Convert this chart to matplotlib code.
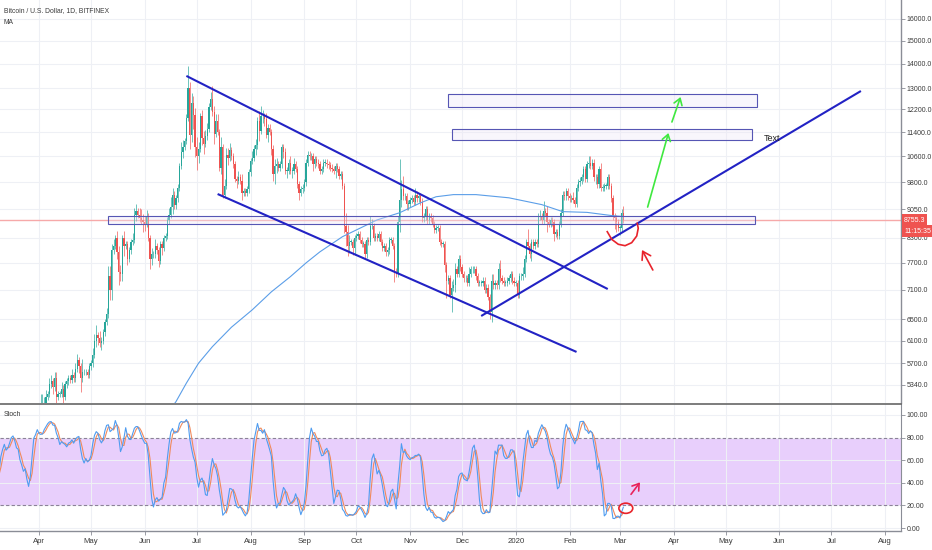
import numpy as np
import pandas as pd
import matplotlib
matplotlib.use('Agg')
import matplotlib.pyplot as plt
import matplotlib.dates as mdates
import matplotlib.transforms as mtrans
from matplotlib import font_manager
from matplotlib.patches import Rectangle, Ellipse
from matplotlib.ticker import NullLocator

# pick a narrow font if there is one, the TradingView labels are quite condensed
names = {f.name for f in font_manager.fontManager.ttflist}
FONT = 'Liberation Sans Narrow' if 'Liberation Sans Narrow' in names else 'Liberation Sans'
plt.rcParams['font.family'] = [FONT, 'DejaVu Sans']

# ---- daily BTC/USD closes (Bitfinex), plus wick sizes in % ----
feb19_close = [3980, 3950, 4000, 4150, 3800, 3850, 3830, 3850, 3850]
feb19_up = [2, 1, 1, 2, 3, 1, 1, 1, 1]
feb19_dn = [1, 1, 1, 1, 2, 1, 1, 1, 1]

mar19_close = [3870, 3880, 3850, 3750, 3930, 3940, 3960, 3960, 4020, 4000,
               3930, 3950, 3940, 3950, 4000, 4100, 4060, 4050, 4080, 4100,
               4020, 4040, 4050, 4040, 3960, 4000, 4120, 4110, 4200, 4200, 4200]
mar19_up = [1, 1, 1, 1, 1, 1, 1, 2, 1, 1, 1, 1, 1, 1, 1, 2, 1, 1, 1, 1,
            1, 1, 1, 1, 1, 1, 1, 1, 1, 1, 1]
mar19_dn = [1, 1, 1, 2, 1, 1, 1, 1, 1, 1, 1, 1, 1, 1, 1, 1, 1, 1, 1, 1,
            1, 1, 1, 1, 1, 1, 1, 1, 1, 1, 1]

apr19_close = [4200, 5000, 5050, 5050, 5150, 5200, 5350, 5400, 5300, 5450,
               5150, 5200, 5200, 5280, 5150, 5350, 5400, 5450, 5420, 5500,
               5450, 5600, 5750, 5650, 5450, 5550, 5550, 5550, 5500, 5650]
apr19_up = [2, 4, 3, 2, 2, 1, 2, 2, 1, 2, 2, 1, 1, 2, 1, 1, 1, 1, 1, 2,
            1, 2, 2, 1, 1, 4, 1, 1, 1, 1]
apr19_dn = [1, 1, 3, 2, 1, 1, 1, 1, 2, 1, 2, 1, 1, 1, 2, 1, 1, 1, 1, 1,
            1, 1, 1, 2, 4, 1, 1, 1, 1, 1]

may19_close = [5700, 5850, 6100, 6200, 6150, 6050, 6100, 6250, 6450, 6600,
               7400, 7100, 8000, 8100, 8300, 7950, 7500, 7450, 8300, 8100,
               8150, 7800, 8000, 8200, 8250, 8900, 9000, 8900, 8800, 8750, 8700]
may19_up = [1, 2, 2, 3, 1, 2, 1, 1, 1, 2, 3, 3, 2, 2, 1, 2, 2, 2, 1, 2,
            1, 1, 1, 1, 2, 2, 2, 1, 2, 3, 2]
may19_dn = [1, 1, 1, 2, 2, 1, 2, 1, 1, 1, 1, 3, 3, 1, 1, 2, 4, 2, 2, 3,
            1, 2, 1, 1, 1, 1, 2, 1, 1, 1, 3]

jun19_close = [8650, 8850, 8300, 7800, 7900, 7900, 8100, 8000, 7750, 8150,
               8050, 8300, 8350, 8750, 8900, 9100, 9450, 9150, 9350, 9650,
               10300, 10750, 10900, 11100, 11900, 13000, 11300, 12450, 12000, 10900]
jun19_up = [2, 2, 1, 1, 2, 1, 2, 1, 1, 1, 1, 1, 1, 1, 2, 3, 2, 1, 1, 1,
            1, 3, 2, 1, 1, 7, 2, 3, 2, 2]
jun19_dn = [2, 1, 1, 3, 2, 1, 1, 1, 2, 1, 2, 1, 1, 1, 1, 1, 2, 1, 1, 1,
            1, 1, 2, 1, 1, 1, 4, 2, 4, 3]

jul19_close = [10600, 10850, 11950, 11200, 11000, 11250, 11500, 12300, 12600, 12100,
               11350, 11800, 11400, 10250, 10900, 9450, 9700, 10650, 10550, 10800,
               10600, 10350, 9900, 9850, 9950, 9850, 9500, 9550, 9500, 9600, 10100]
jul19_up = [3, 2, 1, 2, 2, 2, 2, 1, 2, 4, 2, 2, 2, 1, 3, 1, 2, 2, 2, 2,
            1, 1, 1, 1, 2, 1, 2, 1, 1, 1, 1]
jul19_dn = [4, 2, 1, 2, 3, 1, 1, 1, 1, 1, 3, 1, 1, 1, 2, 1, 1, 1, 2, 1,
            1, 1, 1, 2, 1, 1, 2, 1, 1, 1, 1]

aug19_close = [10450, 10550, 10850, 10950, 11800, 11450, 11950, 11950, 11850, 11300,
               11550, 11400, 10850, 10050, 10300, 10350, 10250, 10350, 10900, 10750,
               10150, 10150, 10400, 10150, 10150, 10350, 10200, 9750, 9500, 9600, 9650]
aug19_up = [1, 2, 1, 2, 1, 3, 3, 2, 1, 2, 1, 1, 1, 1, 2, 2, 1, 1, 1, 1,
            1, 1, 1, 2, 1, 2, 1, 1, 1, 1, 1]
aug19_dn = [1, 1, 1, 2, 1, 3, 1, 2, 2, 1, 2, 1, 2, 2, 3, 2, 1, 1, 1, 2,
            1, 2, 1, 1, 2, 1, 1, 1, 2, 1, 1]

sep19_close = [9800, 10400, 10650, 10600, 10600, 10350, 10500, 10400, 10350, 10150,
               10200, 10400, 10400, 10350, 10320, 10250, 10200, 10150, 10300, 10200,
               10000, 10050, 9700, 8600, 8450, 8100, 8200, 8200, 8050, 8300]
sep19_up = [1, 1, 1, 1, 1, 1, 1, 1, 1, 1, 1, 1, 1, 1, 1, 1, 1, 1, 1, 1,
            1, 1, 1, 1, 4, 2, 2, 1, 1, 1]
sep19_dn = [1, 1, 1, 1, 1, 2, 1, 1, 1, 1, 1, 1, 1, 1, 1, 1, 1, 1, 2, 1,
            1, 1, 1, 2, 4, 3, 2, 1, 2, 2]

oct19_close = [8350, 8400, 8250, 8150, 8150, 7900, 8250, 8200, 8600, 8600,
               8300, 8350, 8300, 8400, 8200, 8050, 8100, 7950, 8000, 8250,
               8250, 8100, 7500, 7450, 8700, 9300, 9600, 9400, 9400, 9200, 9200]
oct19_up = [1, 1, 1, 1, 1, 1, 1, 1, 3, 2, 1, 1, 1, 1, 1, 1, 1, 1, 1, 1,
            1, 1, 1, 1, 2, 13, 3, 4, 1, 1, 1]
oct19_dn = [1, 1, 1, 1, 1, 1, 1, 1, 1, 1, 1, 1, 1, 1, 1, 1, 1, 1, 1, 1,
            1, 1, 3, 1, 1, 3, 2, 1, 1, 2, 2]

nov19_close = [9300, 9350, 9250, 9450, 9350, 9400, 9250, 8800, 8850, 9050,
               8750, 8850, 8800, 8650, 8500, 8550, 8550, 8200, 8150, 8150,
               7650, 7300, 7350, 7000, 7150, 7200, 7550, 7450, 7800, 7600]
nov19_up = [1, 1, 1, 2, 1, 1, 1, 1, 1, 1, 1, 1, 1, 1, 1, 1, 1, 1, 1, 1,
            1, 1, 1, 1, 2, 2, 2, 1, 1, 1]
nov19_dn = [1, 1, 1, 1, 1, 1, 1, 1, 1, 1, 1, 1, 1, 1, 1, 1, 1, 1, 1, 1,
            2, 5, 1, 1, 5, 1, 2, 1, 1, 1]

dec19_close = [7450, 7350, 7350, 7250, 7450, 7550, 7550, 7550, 7400, 7250,
               7250, 7250, 7300, 7100, 7150, 6950, 6650, 7300, 7200, 7250,
               7200, 7550, 7350, 7300, 7250, 7250, 7300, 7350, 7450, 7300, 7250]
dec19_up = [1, 1, 1, 1, 2, 1, 1, 1, 1, 1, 1, 1, 1, 1, 1, 1, 1, 2, 2, 1,
            1, 2, 3, 1, 1, 1, 1, 1, 1, 1, 1]
dec19_dn = [1, 1, 1, 1, 1, 1, 1, 1, 1, 1, 1, 1, 1, 1, 1, 1, 2, 3, 1, 1,
            1, 1, 1, 1, 1, 1, 1, 1, 1, 1, 1]

jan20_close = [7250, 7000, 7400, 7400, 7450, 7800, 8200, 8100, 7900, 8200,
               8100, 8200, 8150, 8850, 8850, 8750, 9000, 8950, 8700, 8650,
               8750, 8700, 8400, 8450, 8350, 8650, 8950, 9450, 9400, 9550, 9400]
jan20_up = [1, 1, 1, 1, 2, 1, 1, 4, 1, 1, 1, 1, 1, 1, 2, 1, 3, 1, 2, 1,
            1, 1, 1, 1, 1, 1, 1, 1, 1, 1, 1]
jan20_dn = [1, 1, 1, 1, 1, 1, 1, 1, 1, 2, 1, 1, 1, 1, 1, 1, 1, 1, 3, 1,
            1, 1, 2, 1, 1, 1, 1, 1, 1, 1, 1]

feb20_close = [9350, 9350, 9300, 9200, 9650, 9800, 9850, 9950, 10200, 9900,
               10350, 10400, 10300, 10400, 9950, 9950, 9750, 10200, 9650, 9650,
               9700, 9700, 9950, 9700, 9350, 8850, 8800, 8700, 8550]
feb20_up = [1, 1, 2, 1, 1, 1, 1, 1, 1, 1, 1, 2, 2, 1, 1, 1, 1, 1, 2, 1,
            1, 1, 1, 1, 1, 1, 1, 1, 1]
feb20_dn = [1, 1, 1, 1, 1, 1, 1, 1, 1, 1, 1, 1, 1, 1, 1, 2, 1, 1, 1, 1,
            1, 1, 1, 1, 1, 1, 3, 3, 1]

mar20_close = [8550, 8950, 8755.3]
mar20_up = [1, 1, 2]
mar20_dn = [2, 1, 1]

last_price = 8755.3
last_time = '11:15:35'

# 200 day MA
ma_dates = ['2019-06-14', '2019-06-19', '2019-06-25', '2019-07-02', '2019-07-10',
            '2019-07-21', '2019-08-02', '2019-08-13', '2019-08-24', '2019-09-02',
            '2019-09-10', '2019-09-23', '2019-10-13', '2019-10-26', '2019-11-07',
            '2019-11-16', '2019-11-26', '2019-12-09', '2019-12-28', '2020-01-16',
            '2020-01-28', '2020-02-11', '2020-02-26', '2020-03-03']
ma_vals = [4900, 5080, 5370, 5700, 5990, 6350, 6690, 7060, 7390, 7700,
           7960, 8330, 8760, 8950, 9220, 9390, 9450, 9450, 9360, 9170,
           8980, 8960, 8870, 8850]

price_ticks = [5340, 5700, 6100, 6500, 7100, 7700, 8300, 9050, 9800, 10600,
               11400, 12200, 13000, 14000, 15000, 16000]
stoch_ticks = [0, 20, 40, 60, 80, 100]
month_starts = ['2019-04', '2019-05', '2019-06', '2019-07', '2019-08', '2019-09',
                '2019-10', '2019-11', '2019-12', '2020-01', '2020-02', '2020-03',
                '2020-04', '2020-05', '2020-06', '2020-07', '2020-08']
month_labels = ['Apr', 'May', 'Jun', 'Jul', 'Aug', 'Sep', 'Oct', 'Nov', 'Dec',
                '2020', 'Feb', 'Mar', 'Apr', 'May', 'Jun', 'Jul', 'Aug']

# drawings on the chart (date, price)
chan_upper = (['2019-06-25', '2020-02-23'], [13490, 7120])
chan_lower = (['2019-07-13', '2020-02-05'], [9467, 5896])
rise_line = (['2019-12-12', '2020-07-18'], [6567, 12893])
zone_boxes = [('2019-05-11', '2020-05-18', 8653, 8865),
              ('2019-11-23', '2020-05-19', 12289, 12778),
              ('2019-11-25', '2020-05-16', 11131, 11505)]
green_arrows = [('2020-03-17', 9104, '2020-03-29', 11368),
                ('2020-03-31', 11749, '2020-04-05', 12664)]
red_arc_dates = ['2020-02-22T17', '2020-02-25T07', '2020-02-29T02', '2020-03-04T00',
                 '2020-03-07T19', '2020-03-10T17', '2020-03-11T14', '2020-03-11T00']
red_arc_vals = [8456, 8264, 8142, 8108, 8181, 8347, 8543, 8672]
red_arrow = ('2020-03-20', 7538, '2020-03-13T18', 8005)
stoch_arrow = ('2020-03-07T10', 29.8, '2020-03-12T14', 40.4)
stoch_circle = ('2020-03-04T10', 17.5)
note_text = ('2020-05-23', 11166, 'Text')

months = [('2019-02-20', feb19_close, feb19_up, feb19_dn),
          ('2019-03-01', mar19_close, mar19_up, mar19_dn),
          ('2019-04-01', apr19_close, apr19_up, apr19_dn),
          ('2019-05-01', may19_close, may19_up, may19_dn),
          ('2019-06-01', jun19_close, jun19_up, jun19_dn),
          ('2019-07-01', jul19_close, jul19_up, jul19_dn),
          ('2019-08-01', aug19_close, aug19_up, aug19_dn),
          ('2019-09-01', sep19_close, sep19_up, sep19_dn),
          ('2019-10-01', oct19_close, oct19_up, oct19_dn),
          ('2019-11-01', nov19_close, nov19_up, nov19_dn),
          ('2019-12-01', dec19_close, dec19_up, dec19_dn),
          ('2020-01-01', jan20_close, jan20_up, jan20_dn),
          ('2020-02-01', feb20_close, feb20_up, feb20_dn),
          ('2020-03-01', mar20_close, mar20_up, mar20_dn)]

dates, closes, ups, dns = [], [], [], []
for start, c, u, d in months:
    assert len(c) == len(u) == len(d), start
    dates += [np.datetime64(start) + i for i in range(len(c))]
    closes += c
    ups += u
    dns += d

df = pd.DataFrame({'close': closes, 'up': ups, 'dn': dns}, index=pd.to_datetime(dates))
df['open'] = df['close'].shift(1).fillna(df['close'].iloc[0])
top = df[['open', 'close']].max(axis=1)
bot = df[['open', 'close']].min(axis=1)
df['high'] = top * (1 + df['up'] / 100)
df['low'] = bot * (1 - df['dn'] / 100)

# Stoch 14,3,3
ll = df['low'].rolling(14).min()
hh = df['high'].rolling(14).max()
k = (100 * (df['close'] - ll) / (hh - ll)).rolling(3).mean()
d = k.rolling(3).mean()


def dn_(s):
    return mdates.date2num(np.datetime64(s))


W, H = 932, 550
fig = plt.figure(figsize=(W / 100, H / 100), dpi=100)
fig.patch.set_facecolor('white')
ax = fig.add_axes([0, 1 - 403 / H, 901 / W, 403 / H])
ax2 = fig.add_axes([0, 1 - 531 / H, 901 / W, 127 / H], sharex=ax)

GRID = '#eef0f5'
AXC = '#8a8d96'
TXT = '#3a3a3a'
FS = 5.0

x = mdates.date2num(df.index.values)
green, red = '#26a69a', '#ef5350'
cols = np.where(df['close'] >= df['open'], green, red)
ax.vlines(x, df['low'], df['high'], colors=cols, lw=0.55, alpha=0.85, zorder=3)
body_h = np.maximum((top - bot).values, top.values * 0.0015)
ax.bar(x, body_h, bottom=bot.values, width=0.72, color=cols, linewidth=0, zorder=3)

# MA
ax.plot(mdates.date2num(pd.to_datetime(ma_dates)), ma_vals, color='#5b9ee8', lw=0.8, zorder=4)

ax.set_yscale('log')
x0 = dn_('2019-04-01') - 39 / 1.734
x1 = dn_('2019-04-01') + 862 / 1.734
ax.set_xlim(x0, x1)
ax.set_ylim(5059, 16938)

ax.yaxis.tick_right()
ax.set_yticks(price_ticks)
ax.set_yticklabels(['%.1f' % v for v in price_ticks])
ax.yaxis.set_minor_locator(NullLocator())
ax.tick_params(axis='y', labelsize=FS, colors=AXC, labelcolor=TXT, length=3, width=0.6, pad=1.2)
ax.tick_params(axis='x', bottom=False, labelbottom=False)
ax.grid(True, color=GRID, lw=0.8, zorder=0)
ax.set_axisbelow(True)
for s in ['top', 'left', 'bottom']:
    ax.spines[s].set_visible(False)
ax.spines['right'].set_color(AXC)
ax.spines['right'].set_linewidth(1.0)

mticks = [dn_(m + '-01') for m in month_starts]
ax.set_xticks(mticks)

# last price line + labels
ax.axhline(last_price, color='#f6a9a9', lw=1.0, zorder=2)
blend = mtrans.blended_transform_factory(ax.transAxes, ax.transData)
ax.text(1.003, last_price, '%.1f' % last_price, transform=blend, ha='left', va='center',
        fontsize=FS, color='white', clip_on=False, zorder=20,
        bbox=dict(boxstyle='square,pad=0.3', fc=red, ec='none'))
ax.annotate(last_time, xy=(1.0, last_price), xycoords=blend, xytext=(3, -11),
            textcoords='offset pixels', ha='left', va='center', fontsize=FS, color='white',
            annotation_clip=False, zorder=20,
            bbox=dict(boxstyle='square,pad=0.3', fc=red, ec='none'))

# drawings
LINE = '#2222c4'
for xs, ys in [chan_upper, chan_lower, rise_line]:
    ax.plot(mdates.date2num(pd.to_datetime(xs)), ys, color=LINE, lw=1.5, zorder=6,
            solid_capstyle='butt')

for a, b, lo, hi in zone_boxes:
    ax.add_patch(Rectangle((dn_(a), lo), dn_(b) - dn_(a), hi - lo, fc=(0.93, 0.9, 0.97, 0.35),
                           ec='#5656b4', lw=0.8, zorder=5))

for a, pa, b, pb in green_arrows:
    ax.annotate('', xy=(dn_(b), pb), xytext=(dn_(a), pa),
                arrowprops=dict(arrowstyle='->,head_length=0.45,head_width=0.3',
                                color='#3fe83f', lw=1.2, shrinkA=0, shrinkB=0), zorder=7)

ax.plot(mdates.date2num(pd.to_datetime(red_arc_dates)), red_arc_vals, color='#e8232b',
        lw=1.2, zorder=7, solid_joinstyle='round')
a, pa, b, pb = red_arrow
ax.annotate('', xy=(dn_(b), pb), xytext=(dn_(a), pa),
            arrowprops=dict(arrowstyle='->,head_length=0.55,head_width=0.35',
                            color='#e8232b', lw=1.2, shrinkA=0, shrinkB=0), zorder=7)

ax.text(dn_(note_text[0]), note_text[1], note_text[2], fontsize=6.5, color='#222',
        ha='left', va='center', zorder=8)

# ---- stoch pane ----
ax2.axhspan(20, 80, color='#e8cffc', lw=0, zorder=0)
ax2.axhline(80, color='#8c8199', lw=0.8, ls=(0, (3, 2)), zorder=1)
ax2.axhline(20, color='#8c8199', lw=0.8, ls=(0, (3, 2)), zorder=1)
ax2.plot(x, d.values, color='#f08a5d', lw=0.8, zorder=3)
ax2.plot(x, k.values, color='#4f9cf0', lw=0.8, zorder=4)

ax2.set_ylim(-2.6, 109.6)
ax2.yaxis.tick_right()
ax2.set_yticks(stoch_ticks)
ax2.set_yticklabels(['%.2f' % v for v in stoch_ticks])
ax2.tick_params(axis='y', labelsize=FS, colors=AXC, labelcolor=TXT, length=3, width=0.6, pad=1.2)
ax2.set_xticks(mticks)
ax2.set_xticklabels(month_labels)
ax2.tick_params(axis='x', labelsize=5.6, colors=AXC, labelcolor=TXT, length=3, width=0.6, pad=2)
ax2.grid(True, color=GRID, lw=0.8, zorder=0)
ax2.set_axisbelow(True)
ax2.spines['left'].set_visible(False)
ax2.spines['right'].set_color(AXC)
ax2.spines['top'].set_color('#666666')
ax2.spines['top'].set_linewidth(1.2)
ax2.spines['bottom'].set_color(AXC)
ax2.spines['bottom'].set_linewidth(1.0)

c, v = stoch_circle
ax2.add_patch(Ellipse((dn_(c), v), 8, 9, fill=False, ec='#e8232b', lw=1.2, zorder=7))
a, pa, b, pb = stoch_arrow
ax2.annotate('', xy=(dn_(b), pb), xytext=(dn_(a), pa),
             arrowprops=dict(arrowstyle='->,head_length=0.45,head_width=0.3',
                             color='#e8235a', lw=1.2, shrinkA=0, shrinkB=0), zorder=7)

# pane titles
fig.text(4 / W, 1 - 11 / H, 'Bitcoin / U.S. Dollar, 1D, BITFINEX', fontsize=4.9, color=TXT,
         va='center', ha='left')
fig.text(4 / W, 1 - 23 / H, 'MA', fontsize=4.9, color=TXT, va='center', ha='left')
fig.text(4 / W, 1 - 415 / H, 'Stoch', fontsize=4.9, color=TXT, va='center', ha='left')

fig.savefig('out.png', dpi=100, facecolor='white')
